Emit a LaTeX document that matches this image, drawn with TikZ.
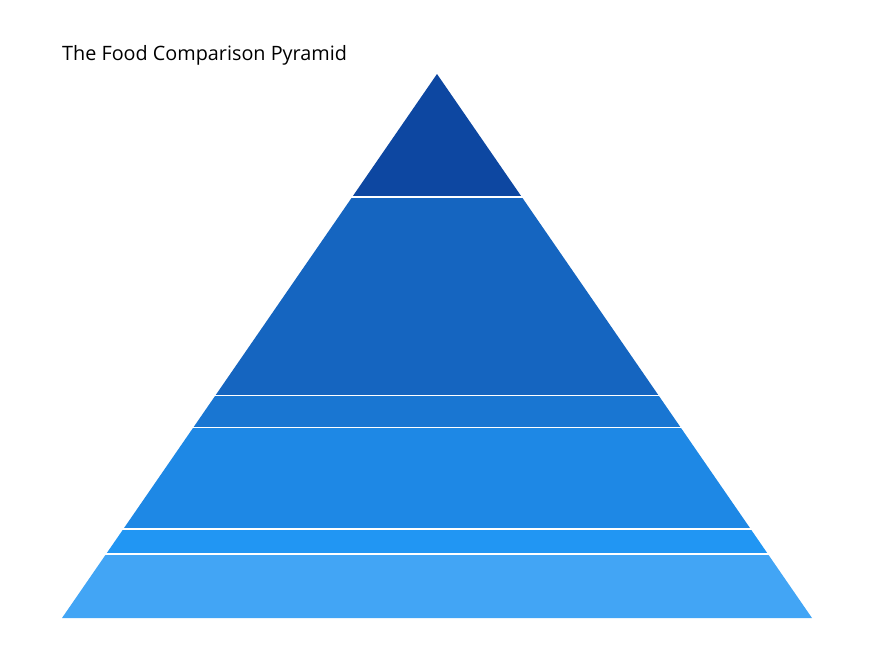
\documentclass[tikz,border=0pt]{standalone}
\usepackage{fontspec}
\setmainfont{Open Sans}
\definecolor{c1}{HTML}{0D47A1}
\definecolor{c2}{HTML}{1565C0}
\definecolor{c3}{HTML}{1976D2}
\definecolor{c4}{HTML}{1E88E5}
\definecolor{c5}{HTML}{2196F3}
\definecolor{c6}{HTML}{42A5F5}
\begin{document}
\begin{tikzpicture}[x=1pt,y=-1pt]
\useasboundingbox (0,0) rectangle (875,661);
\def\ax{437}\def\ay{74}\def\by{618}\def\hw{375}
\pgfmathsetmacro{\k}{\hw/(\by-\ay)}
\foreach \ya/\yb/\c in {74/197/c1,197/395.5/c2,395.5/427.5/c3,427.5/529/c4,529/554/c5,554/618/c6}{
  \pgfmathsetmacro{\wa}{\k*(\ya-\ay)}
  \pgfmathsetmacro{\wb}{\k*(\yb-\ay)}
  \fill[\c] (\ax-\wa,\ya) -- (\ax+\wa,\ya) -- (\ax+\wb,\yb) -- (\ax-\wb,\yb) -- cycle;
}
\foreach \y in {197,395.5,427.5,529,554}{
  \pgfmathsetmacro{\w}{\k*(\y-\ay)+2}
  \draw[white,line width=1.3pt] (\ax-\w,\y) -- (\ax+\w,\y);
}
\node[anchor=base west,inner sep=0pt,font=\fontsize{19.8}{23}\selectfont] (title) at (62,61) {The Food Comparison Pyramid};
\end{tikzpicture}
\end{document}
